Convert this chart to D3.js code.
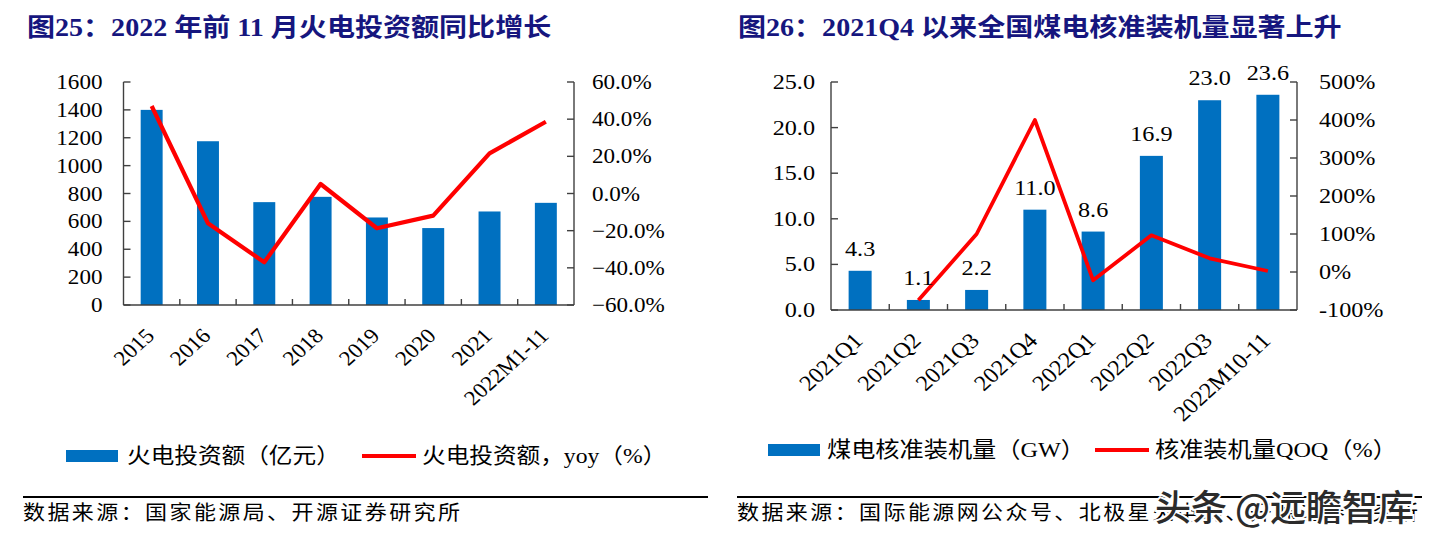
<!DOCTYPE html>
<html><head><meta charset="utf-8">
<script src="https://cdn.jsdelivr.net/npm/d3@7"></script>
<style>body{margin:0;background:#fff;} svg{display:block}</style>
</head><body>
<svg id="c" width="1438" height="538"></svg>
<script>
// ---- data ----
const years = ["2015","2016","2017","2018","2019","2020","2021","2022M1-11"];
const investment = [1400,1175,738,776,628,552,671,733];
const investmentYoy = [47.1,-16.0,-37.0,5.1,-18.7,-11.9,21.6,38.6];
const investTicks = [0,200,400,600,800,1000,1200,1400,1600];
const yoyTicks = [-60,-40,-20,0,20,40,60];

const quarters = ["2021Q1","2021Q2","2021Q3","2021Q4","2022Q1","2022Q2","2022Q3","2022M10-11"];
const approved = [4.3,1.1,2.2,11.0,8.6,16.9,23.0,23.6];
const approvedQoq = [null,-74.4,100,400,-21.8,96.5,36.1,2.6];
const approvedTicks = [0,5,10,15,20,25];
const qoqTicks = [-100,0,100,200,300,400,500];

const title1 = "图25：2022 年前 11 月火电投资额同比增长";
const title2 = "图26：2021Q4 以来全国煤电核准装机量显著上升";
const legend1 = ["火电投资额（亿元）","火电投资额，yoy（%）"];
const legend2 = ["煤电核准装机量（GW）","核准装机量QOQ（%）"];
const source1 = "数据来源：国家能源局、开源证券研究所";
const source2 = "数据来源：国际能源网公众号、北极星火电网、开源证券研究所";
const watermark = "头条 @远瞻智库";

// ---- style ----
const SX = 1.1;
const FONT = "'Liberation Serif','Noto Sans CJK SC',serif";
const BLUE = "#0070C0", RED = "#FF0000", AXIS = "#404040", NAVY = "#16167e";

const svg = d3.select("#c");

function txt(g, x, y, s, o = {}) {
  const t = g.append("text")
    .attr("transform", `translate(${x},${y}) scale(${SX},1)` + (o.rot ? ` rotate(${o.rot})` : ""))
    .attr("font-family", o.family || FONT)
    .attr("font-size", o.size || 21)
    .attr("text-anchor", o.anchor || "start")
    .attr("fill", o.fill || "#000")
    .text(s);
  if (o.weight) t.attr("font-weight", o.weight);
  if (o.ls) t.attr("letter-spacing", o.ls);
  return t;
}

function drawChart(cfg) {
  const g = svg.append("g");
  const {x0, x1, y0, y1} = cfg;
  const x = d3.scaleBand().domain(cfg.cats).range([x0, x1]);
  const yL = d3.scaleLinear().domain(cfg.lDomain).range([y1, y0]);
  const yR = d3.scaleLinear().domain(cfg.rDomain).range([y1, y0]);
  const bw = x.bandwidth() * cfg.barFrac;

  // bars
  g.selectAll("rect.bar").data(cfg.bars).join("rect")
    .attr("x", (d, i) => x(cfg.cats[i]) + (x.bandwidth() - bw) / 2)
    .attr("y", d => yL(d))
    .attr("width", bw)
    .attr("height", d => yL(0) - yL(d))
    .attr("fill", BLUE);

  // axes
  const ax = g.append("g").attr("stroke", AXIS).attr("stroke-width", 1.4).attr("fill", "none");
  ax.append("line").attr("x1", x0).attr("x2", x0).attr("y1", y0).attr("y2", y1);
  ax.append("line").attr("x1", x1).attr("x2", x1).attr("y1", y0).attr("y2", y1);
  ax.append("line").attr("x1", x0).attr("x2", x1).attr("y1", y1).attr("y2", y1);
  cfg.lTicks.forEach(v => ax.append("line").attr("x1", x0).attr("x2", x0 + 7).attr("y1", yL(v)).attr("y2", yL(v)));
  cfg.rTicks.forEach(v => ax.append("line").attr("x1", x1).attr("x2", x1 - 7).attr("y1", yR(v)).attr("y2", yR(v)));
  cfg.cats.forEach((c, i) => { if (i > 0) { const xx = x(c); ax.append("line").attr("x1", xx).attr("x2", xx).attr("y1", y1).attr("y2", y1 - 6); } });

  // line
  const pts = cfg.line.map((v, i) => [x(cfg.cats[i]) + x.bandwidth() / 2, v]).filter(p => p[1] != null);
  g.append("path")
    .attr("d", d3.line().x(p => p[0]).y(p => yR(p[1]))(pts))
    .attr("fill", "none").attr("stroke", RED).attr("stroke-width", cfg.lineW)
    .attr("stroke-linejoin", "round");

  // tick labels
  cfg.lTicks.forEach(v => txt(g, x0 - cfg.lGap, yL(v) + 7, cfg.lFmt(v), {anchor: "end", size: cfg.fs}));
  cfg.rTicks.forEach(v => txt(g, x1 + cfg.rGap, yR(v) + 7, cfg.rFmt(v), {size: cfg.fs}));
  cfg.cats.forEach(c => txt(g, x(c) + x.bandwidth() / 2 + 4, y1 + 32, c, {anchor: "end", size: cfg.fs, rot: -45}));

  // data labels
  if (cfg.labels) cfg.bars.forEach((v, i) =>
    txt(g, x(cfg.cats[i]) + x.bandwidth() / 2, yL(v) - 15, d3.format(".1f")(v), {anchor: "middle", size: cfg.fs}));

  // title
  txt(g, cfg.tx, 36, cfg.title, {size: 25.5, weight: "bold", fill: NAVY});

  // legend
  const L = cfg.leg;
  g.append("rect").attr("x", L.sx).attr("y", L.cy - 6).attr("width", 52).attr("height", 12).attr("fill", BLUE);
  txt(g, L.t1, L.cy + 7, cfg.legend[0], {size: cfg.legFs});
  g.append("line").attr("x1", L.lx).attr("x2", L.lx + 54).attr("y1", L.cy).attr("y2", L.cy)
    .attr("stroke", RED).attr("stroke-width", 4);
  txt(g, L.t2, L.cy + 7, cfg.legend[1], {size: cfg.legFs});

  // source rule + text
  g.append("line").attr("x1", cfg.rule[0]).attr("x2", cfg.rule[1]).attr("y1", 497).attr("y2", 497)
    .attr("stroke", "#000").attr("stroke-width", 2);
  txt(g, cfg.rule[0], 520, cfg.source, {size: 20, ls: 2.2});
}

drawChart({
  cats: years, bars: investment, line: investmentYoy,
  x0: 123.5, x1: 574, y0: 82, y1: 305,
  lDomain: [0, 1600], rDomain: [-60, 60],
  lTicks: investTicks, rTicks: yoyTicks,
  lFmt: d => String(d), rFmt: d => d3.format(".1f")(d) + "%",
  lGap: 21, rGap: 18, fs: 21, barFrac: 0.39, lineW: 4.2, legFs: 21.5,
  labels: false, tx: 27, title: title1, legend: legend1,
  leg: {sx: 66, cy: 456, t1: 127, lx: 362, t2: 422},
  rule: [23, 708], source: source1
});

drawChart({
  cats: quarters, bars: approved, line: approvedQoq,
  x0: 831, x1: 1297, y0: 82, y1: 310,
  lDomain: [0, 25], rDomain: [-100, 500],
  lTicks: approvedTicks, rTicks: qoqTicks,
  lFmt: d => d3.format(".1f")(d), rFmt: d => d + "%",
  lGap: 16, rGap: 22, fs: 22, barFrac: 0.395, lineW: 3.8, legFs: 22,
  labels: true, tx: 738, title: title2, legend: legend2,
  leg: {sx: 768, cy: 450, t1: 827, lx: 1095, t2: 1155},
  rule: [737, 1422], source: source2
});

// watermark
svg.append("text")
  .attr("transform", "translate(1155,521)")
  .attr("font-family", "'Noto Sans CJK SC',sans-serif")
  .attr("font-size", 36).attr("font-weight", 500)
  .attr("fill", "#2b2b2b").attr("stroke", "#fff").attr("stroke-width", 4)
  .attr("paint-order", "stroke")
  .text(watermark);
</script>
</body></html>
